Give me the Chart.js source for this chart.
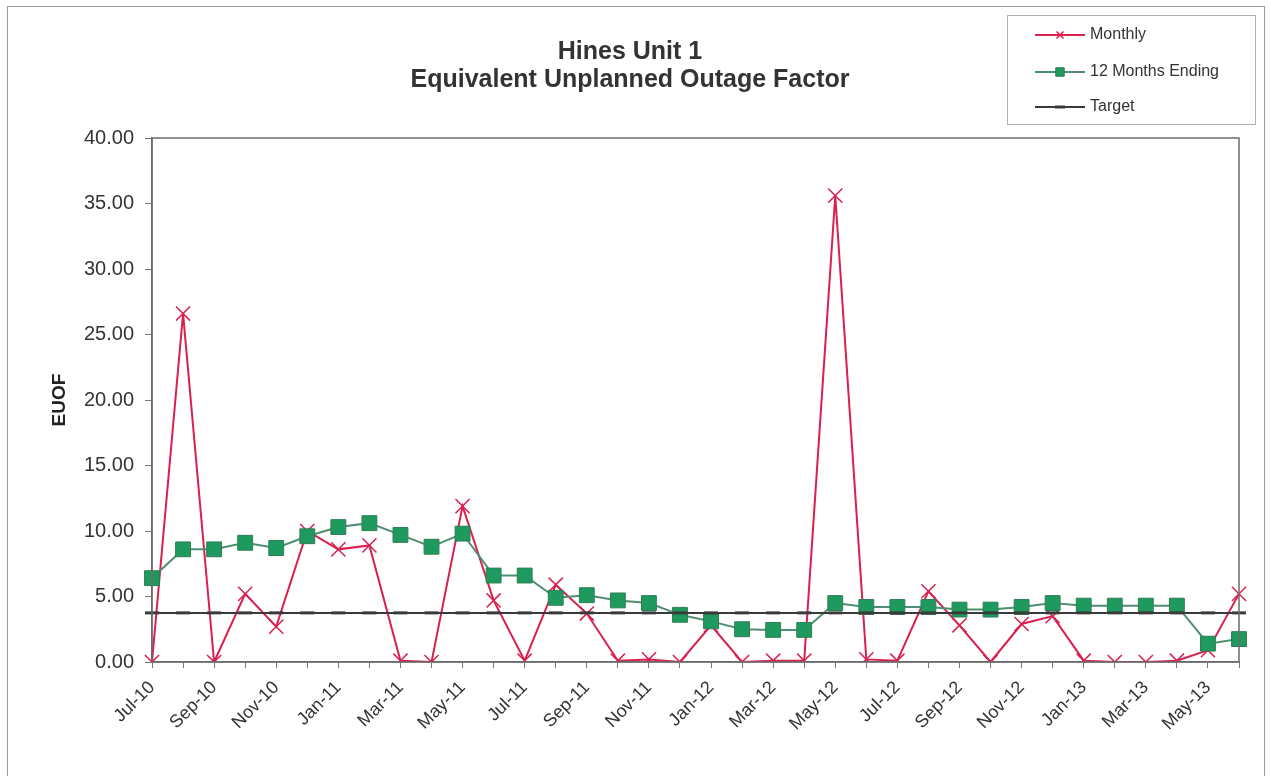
<!DOCTYPE html>
<html>
<head>
<meta charset="utf-8">
<script src="https://cdn.jsdelivr.net/npm/chart.js@4.4.0/dist/chart.umd.min.js"></script>
<style>
html, body { margin:0; padding:0; background:#fff; }
#chartBox { width:1270px; height:776px; }
</style>
</head>
<body>
<div id="chartBox"><canvas id="euofChart" width="1270" height="776"></canvas></div>
<script>
// months on the category axis
var monthLabels = ["Jul-10","Aug-10","Sep-10","Oct-10","Nov-10","Dec-10",
                   "Jan-11","Feb-11","Mar-11","Apr-11","May-11","Jun-11",
                   "Jul-11","Aug-11","Sep-11","Oct-11","Nov-11","Dec-11",
                   "Jan-12","Feb-12","Mar-12","Apr-12","May-12","Jun-12",
                   "Jul-12","Aug-12","Sep-12","Oct-12","Nov-12","Dec-12",
                   "Jan-13","Feb-13","Mar-13","Apr-13","May-13","Jun-13"];

// EUOF values
var monthlyValues = [0, 26.6, 0, 5.2, 2.7, 10.0, 8.6, 8.9, 0.1, 0, 11.9, 4.7,
                     0.1, 5.9, 3.7, 0.1, 0.2, 0, 2.8, 0, 0.1, 0.1, 35.6, 0.2,
                     0.1, 5.4, 2.8, 0, 2.9, 3.5, 0.1, 0, 0, 0.1, 0.9, 5.2];
var rolling12Values = [6.4, 8.6, 8.6, 9.1, 8.7, 9.6, 10.3, 10.6, 9.7, 8.8, 9.8, 6.6,
                       6.6, 4.9, 5.1, 4.7, 4.5, 3.6, 3.1, 2.5, 2.45, 2.45, 4.5, 4.2,
                       4.2, 4.2, 4.0, 4.0, 4.2, 4.5, 4.3, 4.3, 4.3, 4.3, 1.4, 1.75];
var targetValues = [3.75, 3.75, 3.75, 3.75, 3.75, 3.75, 3.75, 3.75, 3.75, 3.75, 3.75, 3.75,
                    3.75, 3.75, 3.75, 3.75, 3.75, 3.75, 3.75, 3.75, 3.75, 3.75, 3.75, 3.75,
                    3.75, 3.75, 3.75, 3.75, 3.75, 3.75, 3.75, 3.75, 3.75, 3.75, 3.75, 3.75];

var seriesNames = ["Monthly", "12 Months Ending", "Target"];
var titleLines = ["Hines Unit 1", "Equivalent Unplanned Outage Factor"];
var yMin = 0, yMax = 40, yStep = 5;

var FONT = "Arial, 'Liberation Sans', sans-serif";

// frame round the whole chart and box round the plot area
var framePlugin = {
	id: 'frame',
	beforeDraw: function(chart){
		var ctx = chart.ctx;
		ctx.save();
		ctx.fillStyle = '#fff';
		ctx.fillRect(0, 0, chart.width, chart.height);
		ctx.strokeStyle = '#9a9a9a';
		ctx.lineWidth = 1;
		ctx.strokeRect(7.5, 6.5, 1257, 780);
		ctx.restore();
	},
	afterDatasetsDraw: function(chart){
		var a = chart.chartArea, ctx = chart.ctx;
		ctx.save();
		ctx.strokeStyle = '#6b6b6b';
		ctx.lineWidth = 1.5;
		ctx.strokeRect(a.left, a.top, a.right - a.left, a.bottom - a.top);
		ctx.restore();
	}
};

// legend box in the top right corner, like the original
var legendMarkerSize = [5, 6, 5];
var boxLegend = {
	id: 'boxLegend',
	afterDraw: function(chart){
		var ctx = chart.ctx;
		var x0 = 1007, y0 = 15, w = 248, h = 109;
		ctx.save();
		ctx.fillStyle = '#fff';
		ctx.fillRect(x0, y0, w, h);
		ctx.strokeStyle = '#b0b0b0';
		ctx.lineWidth = 1;
		ctx.strokeRect(x0 + 0.5, y0 + 0.5, w, h);
		var rows = [35, 72, 107];
		chart.data.datasets.forEach(function(ds, i){
			var y = rows[i];
			ctx.strokeStyle = ds.borderColor;
			ctx.lineWidth = 2;
			ctx.beginPath();
			ctx.moveTo(1035, y);
			ctx.lineTo(1085, y);
			ctx.stroke();
			ctx.fillStyle = ds.pointBackgroundColor;
			ctx.strokeStyle = ds.pointBorderColor;
			ctx.lineWidth = ds.pointBorderWidth;
			Chart.helpers.drawPoint(ctx, {
				pointStyle: ds.pointStyle,
				rotation: 0,
				radius: legendMarkerSize[i],
				borderWidth: ds.pointBorderWidth
			}, 1060, y);
			ctx.fillStyle = '#333';
			ctx.font = '16px ' + FONT;
			ctx.textBaseline = 'middle';
			ctx.textAlign = 'left';
			ctx.fillText(ds.label, 1090, y);
		});
		ctx.restore();
	}
};

function makeEuofChart(){
	var ctx = document.getElementById('euofChart').getContext('2d');
	new Chart(ctx, {
		type: 'line',
		data: {
			labels: monthLabels,
			datasets: [
				{
					label: seriesNames[0],
					data: monthlyValues,
					borderColor: '#d9204f',
					borderWidth: 2,
					pointStyle: 'crossRot',
					pointRadius: 10,
					pointBorderWidth: 1.5,
					pointBorderColor: '#d9204f',
					pointBackgroundColor: '#d9204f',
					tension: 0,
					order: 3
				},
				{
					label: seriesNames[1],
					data: rolling12Values,
					borderColor: '#4f8f70',
					borderWidth: 2,
					pointStyle: 'rect',
					pointRadius: 10.5,
					pointBorderWidth: 1,
					pointBorderColor: '#2e7d55',
					pointBackgroundColor: '#1f9a5e',
					tension: 0,
					order: 2
				},
				{
					label: seriesNames[2],
					data: targetValues,
					borderColor: '#3a3a3a',
					borderWidth: 2,
					pointStyle: 'line',
					pointRadius: 7,
					pointBorderWidth: 3,
					pointBorderColor: '#3a3a3a',
					pointBackgroundColor: '#3a3a3a',
					tension: 0,
					order: 1
				}
			]
		},
		options: {
			responsive: false,
			animation: false,
			events: [],
			layout: { padding: { left: 21, right: 31, top: 8, bottom: 8 } },
			plugins: {
				legend: { display: false },
				tooltip: { enabled: false },
				title: {
					display: true,
					text: titleLines,
					color: '#333',
					font: { family: FONT, size: 25, weight: 'bold', lineHeight: 1.12 },
					padding: { top: 30, bottom: 44 }
				}
			},
			scales: {
				x: {
					type: 'category',
					offset: false,
					grid: { drawOnChartArea: false, drawTicks: true, tickLength: 6, color: '#777' },
					border: { color: '#6b6b6b', width: 1.5 },
					ticks: {
						autoSkip: false,
						minRotation: 45,
						maxRotation: 45,
						padding: 9,
						color: '#333',
						font: { family: FONT, size: 18 },
						callback: function(val, idx){
							return idx % 2 === 0 ? this.getLabelForValue(val) : '';
						}
					},
					afterFit: function(scale){ scale.height = 776 - 662 - 8; }
				},
				y: {
					min: yMin,
					max: yMax,
					grid: { drawOnChartArea: false, drawTicks: true, tickLength: 7, color: '#777' },
					border: { color: '#6b6b6b', width: 1.5 },
					ticks: {
						stepSize: yStep,
						padding: 11,
						color: '#333',
						font: { family: FONT, size: 20 },
						callback: function(v){ return Number(v).toFixed(2); }
					},
					title: {
						display: true,
						text: 'EUOF',
						color: '#222',
						font: { family: FONT, size: 19, weight: 'bold' },
						padding: { top: 27, bottom: 0 }
					},
					afterFit: function(scale){ scale.width = 131; }
				}
			}
		},
		plugins: [framePlugin, boxLegend]
	});
}

makeEuofChart();
</script>
</body>
</html>
